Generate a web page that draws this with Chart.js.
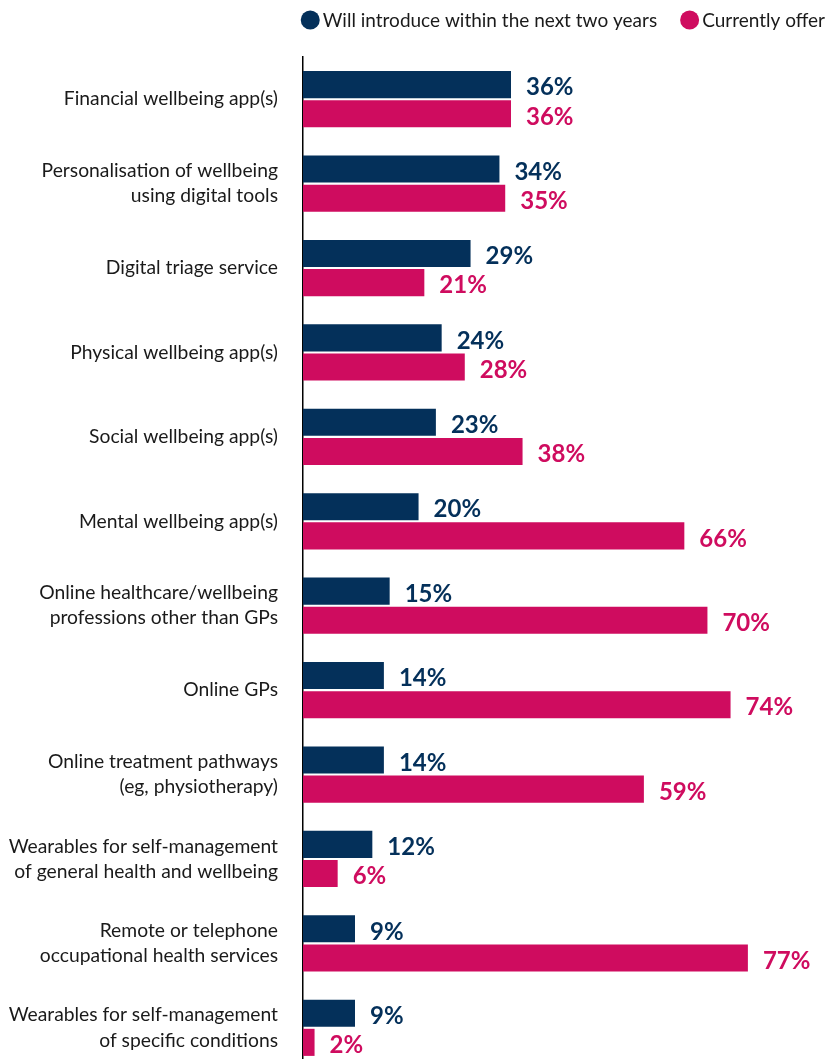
<!DOCTYPE html>
<html>
<head>
<meta charset="utf-8">
<script src="https://cdn.jsdelivr.net/npm/chart.js@4.4.1/dist/chart.umd.min.js"></script>
<style>
    html, body { margin: 0; padding: 0; background: #fff; overflow: hidden; }
    canvas { display: block; }
</style>
</head>
<body>
<canvas id="chart" width="825" height="1070"></canvas>
<script>
const categories = [
    'Financial wellbeing app(s)',
    ['Personalisation of wellbeing', 'using digital tools'],
    'Digital triage service',
    'Physical wellbeing app(s)',
    'Social wellbeing app(s)',
    'Mental wellbeing app(s)',
    ['Online healthcare/wellbeing', 'professions other than GPs'],
    'Online GPs',
    ['Online treatment pathways', '(eg, physiotherapy)'],
    ['Wearables for self-management', 'of general health and wellbeing'],
    ['Remote or telephone', 'occupational health services'],
    ['Wearables for self-management', 'of specific conditions']
];
const willIntroduce = [36, 34, 29, 24, 23, 20, 15, 14, 14, 12, 9, 9];
const currentlyOffer = [36, 35, 21, 28, 38, 66, 70, 74, 59, 6, 77, 2];

const NAVY = '#04305a';
const PINK = '#cf0c5f';
const FONT = 'Lato, "Open Sans", sans-serif';

// percentage figures printed just past the end of every bar
const valueLabels = {
    id: 'valueLabels',
    afterDatasetsDraw(chart) {
        const ctx = chart.ctx;
        ctx.save();
        ctx.font = 'bold 24px ' + FONT;
        ctx.textAlign = 'left';
        ctx.textBaseline = 'middle';
        chart.data.datasets.forEach((ds, i) => {
            const meta = chart.getDatasetMeta(i);
            ctx.fillStyle = ds.backgroundColor;
            meta.data.forEach((bar, j) => {
                ctx.fillText(ds.data[j] + '%', bar.x + 15, bar.y + 3);
            });
        });
        ctx.restore();
    }
};

// dot legend in the top right corner, laid out from the right edge
const dotLegend = {
    id: 'dotLegend',
    afterDraw(chart) {
        const ctx = chart.ctx;
        const y = 20;
        const r = 9.5;
        ctx.save();
        ctx.font = '19px ' + FONT;
        ctx.textBaseline = 'middle';
        ctx.textAlign = 'left';
        let right = chart.width;
        const items = chart.data.datasets.slice().reverse();
        items.forEach(ds => {
            const w = ctx.measureText(ds.label).width;
            const textX = right - w;
            const cx = textX - 3 - r;
            ctx.fillStyle = ds.backgroundColor;
            ctx.beginPath();
            ctx.arc(cx, y, r, 0, Math.PI * 2);
            ctx.fill();
            ctx.fillStyle = '#1a1a1a';
            ctx.fillText(ds.label, textX, y + 1);
            right = cx - r - 23;
        });
        ctx.restore();
    }
};

new Chart(document.getElementById('chart'), {
    type: 'bar',
    data: {
        labels: categories,
        datasets: [
            {
                label: 'Will introduce within the next two years',
                data: willIntroduce,
                backgroundColor: NAVY
            },
            {
                label: 'Currently offer',
                data: currentlyOffer,
                backgroundColor: PINK
            }
        ]
    },
    options: {
        indexAxis: 'y',
        responsive: false,
        animation: false,
        layout: {
            padding: { left: 0, right: 2, top: 57, bottom: 0 }
        },
        categoryPercentage: 0.69,
        barPercentage: 0.93,
        plugins: {
            legend: { display: false },
            tooltip: { enabled: false }
        },
        scales: {
            x: {
                display: false,
                min: 0,
                max: 90
            },
            y: {
                afterFit: (scale) => {
                    scale.width = 303;
                    scale.paddingTop = 0;
                    scale.paddingBottom = 0;
                },
                grid: { display: false },
                border: { display: true, color: '#000', width: 1.5 },
                ticks: {
                    padding: 17,
                    color: '#1a1a1a',
                    font: { family: FONT, size: 19.3, lineHeight: 1.3 }
                }
            }
        }
    },
    plugins: [valueLabels, dotLegend]
});
</script>
</body>
</html>
